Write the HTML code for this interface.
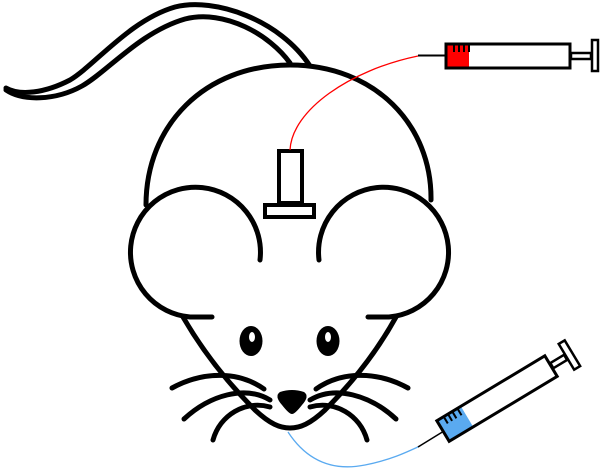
<!DOCTYPE html>
<html><head><meta charset="utf-8"><style>html,body{margin:0;padding:0;background:#fff}svg{display:block}</style></head>
<body>
<svg width="600" height="471" viewBox="0 0 600 471" xmlns="http://www.w3.org/2000/svg">
<g fill="none" stroke="#000" stroke-width="5" stroke-linecap="round" stroke-linejoin="round">
<!-- tail -->
<path d="M6,88 C20,96 45,93 70,80 C95,65 130,20 175,7 C215,-3 280,20 310,66"/>
<path d="M6,90 C22,101 55,101 82,86 C107,72 140,32 185,19 C225,9 270,35 290,63"/>
<!-- head -->
<path d="M146,205 C146,125 205,65 290,65 C375,65 432,125 431,200" fill="#fff"/>
<!-- ears -->
<path d="M260,260 A65,65 0 1 0 190,317 L212,317"/>
<path d="M319,260 A65,65 0 1 1 389,317 L368,317"/>
<!-- face V -->
<path d="M183,317 C205,355 230,385 255,410 C270,424 280,428 290,428 C300,428 310,424 325,410 C350,385 375,355 396,317"/>
<!-- whiskers -->
<path d="M172,388 C205,370 240,372 264,389"/>
<path d="M184,419 C210,395 245,385 270,400"/>
<path d="M213,440 C220,415 245,400 270,407"/>
<path d="M408,388 C375,370 340,372 316,389"/>
<path d="M396,419 C370,395 335,385 310,400"/>
<path d="M367,440 C360,415 335,400 310,407"/>
</g>
<!-- eyes -->
<ellipse cx="251" cy="341" rx="11.5" ry="15" fill="#000"/>
<ellipse cx="252" cy="337" rx="3" ry="5" fill="#fff"/>
<ellipse cx="328" cy="341" rx="11.5" ry="15" fill="#000"/>
<ellipse cx="328" cy="337" rx="3" ry="5" fill="#fff"/>
<!-- nose -->
<path d="M280,392 Q292,388 304,392 Q310,396 302,405 Q295,414 292,414 Q289,414 282,405 Q274,396 280,392Z" fill="#000"/>
<!-- bolt -->
<rect x="279" y="151" width="23" height="52" fill="#fff" stroke="#000" stroke-width="4"/>
<rect x="265" y="205" width="49" height="12" fill="#fff" stroke="#000" stroke-width="4"/>
<!-- red wire -->
<path d="M290,150 C292,110 350,70 418,56" fill="none" stroke="red" stroke-width="1.3"/>
<line x1="418" y1="55.5" x2="446" y2="55.5" stroke="#000" stroke-width="2"/>
<!-- top syringe -->
<rect x="469" y="44" width="101" height="24" fill="#fff"/>
<rect x="446" y="44" width="23" height="24" fill="red"/>
<rect x="446" y="44" width="124" height="24" fill="none" stroke="#000" stroke-width="3"/>
<g stroke="#000" stroke-width="2"><line x1="454" y1="45" x2="454" y2="52"/><line x1="459" y1="45" x2="459" y2="52"/><line x1="464" y1="45" x2="464" y2="52"/><line x1="469" y1="45" x2="469" y2="52"/></g>
<rect x="571" y="53" width="20" height="6" fill="#fff" stroke="#000" stroke-width="2.5"/>
<rect x="592" y="40" width="6" height="31" fill="#fff" stroke="#000" stroke-width="2.5"/>
<!-- blue wire -->
<path d="M288,432 C305,458 330,472 365,465 C390,460 405,453 420,446" fill="none" stroke="#5aaaf0" stroke-width="1.3"/>
<line x1="418" y1="447" x2="444" y2="431" stroke="#000" stroke-width="1.5"/>
<!-- bottom syringe -->
<g transform="translate(443,431) rotate(-31)">
<rect x="0" y="-12" width="126" height="24" fill="#fff"/>
<rect x="0" y="-12" width="28" height="24" fill="#5aaaf0"/>
<rect x="0" y="-12" width="126" height="24" fill="none" stroke="#000" stroke-width="3"/>
<g stroke="#000" stroke-width="2"><line x1="8" y1="-11" x2="8" y2="-4"/><line x1="13" y1="-11" x2="13" y2="-4"/><line x1="18" y1="-11" x2="18" y2="-4"/><line x1="24" y1="-11" x2="24" y2="-4"/></g>
<rect x="127" y="-3" width="16" height="6" fill="#fff" stroke="#000" stroke-width="2.5"/>
<rect x="144" y="-15" width="7" height="30" fill="#fff" stroke="#000" stroke-width="2.5"/>
</g>
</svg>
</body></html>
